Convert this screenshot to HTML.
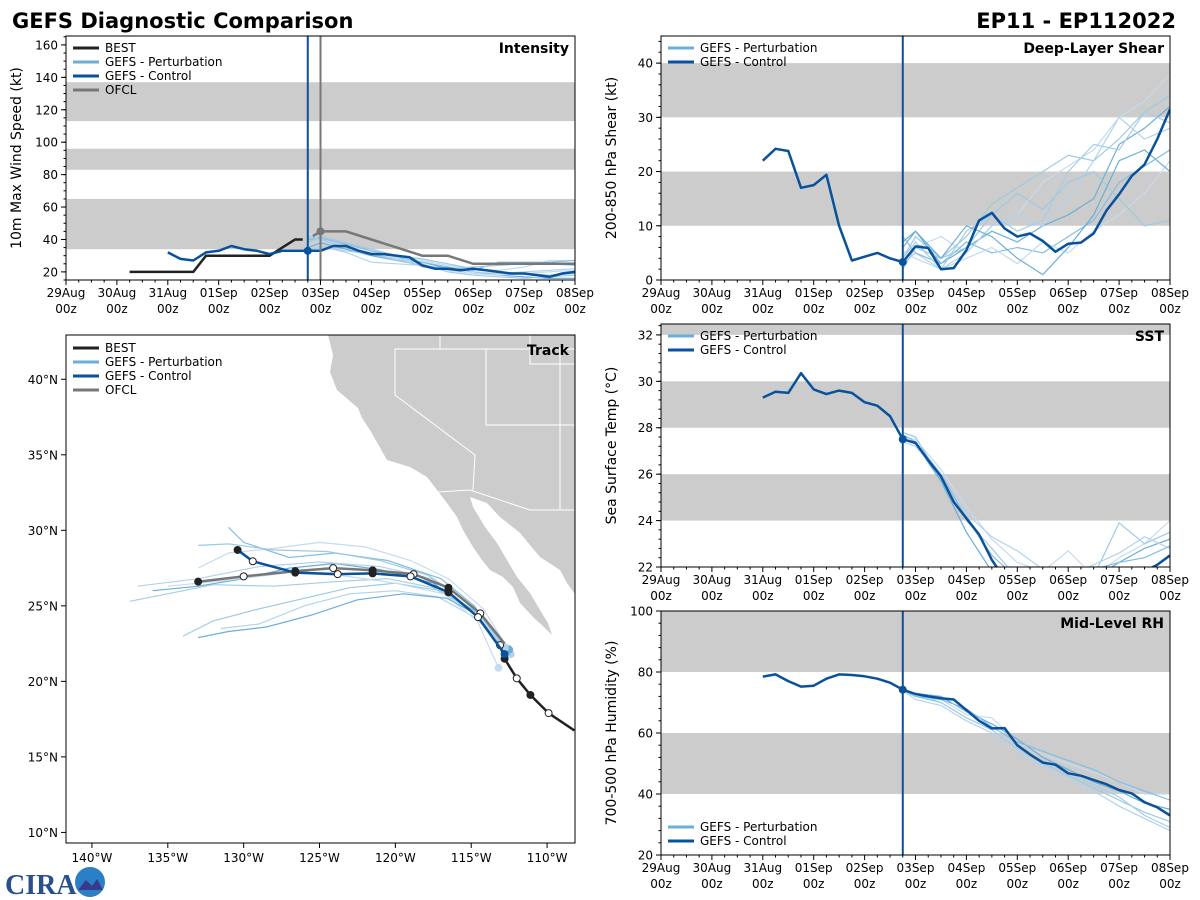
<!DOCTYPE html>
<html><head><meta charset="utf-8">
<style>
html,body{margin:0;padding:0;background:#fff;}
svg{display:block;font-family:"DejaVu Sans","Liberation Sans",sans-serif;}
</style></head>
<body>
<svg id="fig" width="1200" height="900" viewBox="0 0 1200 900" xmlns="http://www.w3.org/2000/svg">
<text x="12" y="28" font-size="21" font-weight="bold">GEFS Diagnostic Comparison</text>
<text x="1176" y="28" font-size="21" font-weight="bold" text-anchor="end">EP11 - EP112022</text>
<g>
<text x="5" y="894" font-size="28" font-weight="bold" fill="#2a4f8f" font-family="Liberation Serif, serif">CIRA</text>
<circle cx="90" cy="882" r="15" fill="#2a7fc7"/>
<path d="M78 890 L86 880 L92 886 L97 879 L103 890 Z" fill="#3a3a8a"/>
</g>
</svg>
<script>
const NS='http://www.w3.org/2000/svg';
const fig=document.getElementById('fig');
// ---------- DATA ----------
const dayLabels=['29Aug','30Aug','31Aug','01Sep','02Sep','03Sep','04Sep','05Sep','06Sep','07Sep','08Sep'];
const ctlStart=2, ctlStep=0.25;
const initDay=4.75;
const pertT=[4.75,5,5.5,6,6.5,7,7.5,8,8.5,9,9.5,10];
// Intensity
const intCtl=[32,28,27,32,33,36,34,33,31,33,33,33,33,36,36,33,31,31,30,29,24,22,22,21,22,21,20,19,19,18,17,19,20];
const bestT=[1.25,1.5,1.75,2,2.25,2.5,2.75,3,3.25,3.5,3.75,4,4.25,4.5,4.65];
const bestV=[20,20,20,20,20,20,30,30,30,30,30,30,35,40,40];
const ofclT=[4.85,5,5.5,6,6.5,7,7.5,8,8.5,9,9.5,10];
const ofclV=[42,45,45,40,35,30,30,25,25,25,25,25];
const intPert=[
[44,40,36,33,30,27,24,22,21,23,27,27],
[38,42,38,34,30,28,25,22,20,19,18,19],
[35,38,34,30,27,26,22,20,18,17,16,16],
[33,36,32,26,25,24,22,20,19,20,21,22],
[40,41,37,33,29,26,23,21,26,26,26,27],
[34,35,33,31,28,25,20,18,17,16,17,18],
[36,39,35,32,29,23,21,19,18,19,20,21],
[42,40,35,31,27,24,22,23,24,25,25,24]];
// Shear
const shrCtl=[22,24.2,23.8,17,17.5,19.4,10,3.6,4.3,5,4,3.3,6.2,5.9,2,2.2,5.5,11,12.4,9.5,8,8.6,7.2,5.2,6.7,6.9,8.6,12.8,15.8,19.2,21.3,26,31.5];
const shrPert=[
[5,6,8,5,10,12,18,21,24,30,33,38],
[4,8,4,8,14,17,20,23,22,26,31,34],
[6,9,3,6,9,7,10,12,15,25,28,32],
[3,5,2,5,10,12,10,15,22,30,26,28],
[8,5,3,7,5,6,5,8,11,18,21,24],
[4,7,2,9,12,9,11,20,25,24,31,29],
[5,4,2,4,6,3,7,5,9,12,16,22],
[2,6,4,6,12,16,13,18,20,15,10,11],
[7,9,4,10,8,4,1,6,12,22,24,20]];
// SST
const sstCtl=[29.3,29.55,29.5,30.35,29.65,29.45,29.6,29.5,29.1,28.95,28.5,27.5,27.35,26.6,25.9,24.8,24.1,23.4,22.3,21.5,21,20.8,20.7,20.6,20.6,20.7,20.8,21,21.2,21.4,21.8,22.1,22.5];
const sstPert=[
[27.6,27.5,26.2,24.6,23.2,22.2,21.8,22.7,21.6,22.4,23,24],
[27.8,27.6,25.8,24,22.8,21.5,21,21.2,21.6,23.9,23,23.5],
[27.5,27.3,25.7,23.5,21.8,21,20.8,21,21.5,22.2,22.8,23.2],
[27.4,27.2,25.9,24.3,23.3,22.7,21.9,21.6,22.1,22.6,23.3,22.8],
[27.7,27.4,26,24.1,22.5,21.5,21.2,21.4,21.9,22.2,22.4,22.9]];
// RH
const rhCtl=[78.5,79.2,77,75.2,75.5,77.8,79.2,79,78.6,77.8,76.5,74.2,72.8,72,71.4,71,67.5,64,61.5,61.6,56,53,50.3,49.6,46.8,46,44.6,43.2,41.3,40.2,37.3,35.6,33];
const rhPert=[
[74,73,71,66,65,57,53,50,47,44,40,40],
[74,72,70,65,61,55,50,46,42,38,34,31],
[74,73,72,67,63,58,52,48,44,41,37,35],
[74,71,69,64,60,54,49,45,41,36,32,28],
[74,72,71,68,62,57,54,51,48,44,41,38],
[74,73,70,65,61,55,51,47,43,39,33,29]];
// Track
const trkBestLon=[-108.2,-109.9,-111.1,-112.0,-112.8,-113.1];
const trkBestLat=[16.75,17.9,19.1,20.2,21.5,22.4];
const trkOfclLon=[-112.8,-114.4,-116.5,-118.8,-121.5,-124.1,-126.6,-130.0,-133.0];
const trkOfclLat=[22.5,24.5,26.2,27.1,27.35,27.5,27.3,26.95,26.6];
const trkCtlLon=[-112.8,-114.55,-116.5,-119.0,-121.5,-123.8,-126.6,-129.4,-130.4];
const trkCtlLat=[21.8,24.25,25.9,26.95,27.15,27.1,27.2,27.95,28.7];
const trkPert=[
[[-112.6,22.2],[-114.2,24.8],[-116.5,26.8],[-119,28],[-122,28.9],[-125,29.2],[-128,28.8],[-131,28.5],[-133,27.5]],
[[-112.5,22],[-114.5,24.5],[-117,26],[-120,26.5],[-123,26.2],[-126,25.5],[-129,24.8],[-132,24],[-134,23]],
[[-112.8,22],[-115,24.8],[-117.5,26.5],[-121,27.4],[-124,27.8],[-127,27.5],[-130,26.8],[-133,26.3],[-136,26]],
[[-112.4,21.8],[-114.7,24.2],[-117.2,25.6],[-120,26],[-123,25.8],[-126,25],[-129,23.8],[-131.5,23.5]],
[[-112.9,22.3],[-114.8,25],[-117,26.8],[-120.5,28],[-124,28.5],[-127,28.2],[-130,29.2],[-131,30.2]],
[[-112.6,21.9],[-114.8,24.6],[-117.5,26.2],[-120.5,26.8],[-124,26.6],[-128,26.3],[-132,26.4],[-137.5,25.3]],
[[-113.2,20.9],[-114.6,24],[-116.8,25.8],[-120,26.5],[-123.5,27],[-127,27.2],[-131,26.7],[-135,26.3]],
[[-112.7,22.1],[-114.9,25],[-117.8,27],[-121,28],[-124.5,28.6],[-128,28.7],[-131,29.1],[-133,29]],
[[-112.5,22.1],[-114.4,24.3],[-116.6,25.5],[-119.5,25.8],[-122.5,25.4],[-125.5,24.4],[-128.5,23.6],[-131,23.3],[-133,22.9]],
[[-112.8,22.2],[-115.1,25.2],[-117.6,26.8],[-121,27.6],[-125,27.9],[-129,27.6],[-133,26.8],[-137,26.3]]];
const lonTicks=[-140,-135,-130,-125,-120,-115,-110];
const latTicks=[10,15,20,25,30,35,40];
// ---------- HELPERS ----------
const PCOL=['#c6dbef','#9ecae1','#6baed6','#b3d3ec','#85bde0','#a6cde8'];
const CTL='#08519c';
function mk(tag,attrs,parent){const e=document.createElementNS(NS,tag);for(const k in attrs)e.setAttribute(k,attrs[k]);(parent||fig).appendChild(e);return e;}
function txt(x,y,s,size,parent,anchor,extra){const e=mk('text',Object.assign({x:x,y:y,'font-size':size,'text-anchor':anchor||'start'},extra||{}),parent);e.textContent=s;return e;}
function ptsStr(xs,ys){return xs.map((x,i)=>x.toFixed(1)+','+ys[i].toFixed(1)).join(' ');}
let clipN=0;
function legend(g,x,y,items){
  items.forEach((it,i)=>{
    const yy=y+i*14;
    const l=mk('line',{x1:x,y1:yy,x2:x+26,y2:yy,stroke:it[1],'stroke-width':3},g);
    
    
    const t=txt(x+32,yy+4,it[0],12,g);
    
    
  });
}
function timePanel(c){
  const g=mk('g',{});
  
  
  const x0=c.x0,x1=c.x0+c.w,y0=c.y0,y1=c.y0+c.h;
  const sx=d=>x0+d/10*c.w;
  const sy=v=>y1-(v-c.ymin)/(c.ymax-c.ymin)*c.h;
  const id='clip'+(clipN++);
  const cp=mk('clipPath',{id:id},g);mk('rect',{x:x0,y:y0,width:c.w,height:c.h},cp);
  const pg=mk('g',{'clip-path':'url(#'+id+')'},g);
  c.bands.forEach(b=>{
    const r=mk('rect',{x:x0,y:sy(b[1]),width:c.w,height:sy(b[0])-sy(b[1]),fill:'#cccccc'},pg);
    
    
  });
  c.perts.forEach((m,i)=>{
    const p=mk('polyline',{points:ptsStr(pertT.map(sx),m.map(sy)),fill:'none',stroke:PCOL[i%PCOL.length],'stroke-width':1.2},pg);
    
    
  });
  if(c.extra)c.extra(pg,sx,sy);
  const ct=c.ctl.map((v,i)=>ctlStart+i*ctlStep);
  const cl=mk('polyline',{points:ptsStr(ct.map(sx),c.ctl.map(sy)),fill:'none',stroke:CTL,'stroke-width':2.5,'stroke-linejoin':'round'},pg);
  
  
  const ii=Math.round((initDay-ctlStart)/ctlStep);
  const dot=mk('circle',{cx:sx(initDay),cy:sy(c.ctl[ii]),r:4,fill:CTL},pg);
  
  
  const vl=mk('line',{x1:sx(initDay),y1:y0,x2:sx(initDay),y2:y1,stroke:CTL,'stroke-width':2},pg);
  
  
  if(c.ofclLine){const ol=mk('line',{x1:sx(5),y1:y0,x2:sx(5),y2:y1,stroke:'#777','stroke-width':2},pg);
    
    }
  const fr=mk('rect',{x:x0,y:y0,width:c.w,height:c.h,fill:'none',stroke:'#000','stroke-width':1},g);
  
  
  // x ticks
  for(let d=0;d<=10;d+=0.25){
    const major=Math.abs(d-Math.round(d))<1e-6;
    mk('line',{x1:sx(d),y1:y1,x2:sx(d),y2:y1+(major?5:2.5),stroke:'#000','stroke-width':1},g);
  }
  dayLabels.forEach((s,i)=>{
    const t=txt(sx(i),y1+17,s,12,g,'middle');
    
    
    const t2=txt(sx(i),y1+33,'00z',12,g,'middle');
    
    
  });
  // y ticks
  for(let v=Math.ceil(c.ymin/c.minor)*c.minor;v<=c.ymax+1e-6;v+=c.minor){
    mk('line',{x1:x0,y1:sy(v),x2:x0-2.5,y2:sy(v),stroke:'#000','stroke-width':1},g);
  }
  c.yticks.forEach(v=>{
    mk('line',{x1:x0,y1:sy(v),x2:x0-5,y2:sy(v),stroke:'#000','stroke-width':1},g);
    const t=txt(x0-8,sy(v)+4.5,String(v),12,g,'end');
    
    
  });
  const yl=txt(0,0,c.ylabel,14,g,'middle',{transform:'translate('+(x0-45)+','+(y0+c.h/2)+') rotate(-90)'});
  
  
  const tt=txt(x1-6,y0+17,c.title,14,g,'end',{'font-weight':'bold'});
  
  
  legend(g,x0+7,c.legY,c.legend);
}
const L2=[['GEFS - Perturbation','#6baed6'],['GEFS - Control',CTL]];
const L4=[['BEST','#222'],['GEFS - Perturbation','#6baed6'],['GEFS - Control',CTL],['OFCL','#777']];
timePanel({name:'intensity-panel',x0:66,y0:36,w:509,h:244,ymin:15,ymax:165.5,bands:[[34,65],[83,96],[113,137]],
  perts:intPert,ctl:intCtl,yticks:[20,40,60,80,100,120,140,160],minor:5,ylabel:'10m Max Wind Speed (kt)',title:'Intensity',legY:48,legend:L4,ofclLine:true,
  extra:(pg,sx,sy)=>{
    const b=mk('polyline',{points:ptsStr(bestT.map(sx),bestV.map(sy)),fill:'none',stroke:'#222','stroke-width':2.5},pg);
    
    
    const o=mk('polyline',{points:ptsStr(ofclT.map(sx),ofclV.map(sy)),fill:'none',stroke:'#777','stroke-width':2.5},pg);
    
    
    const od=mk('circle',{cx:sx(ofclT[1]),cy:sy(ofclV[1]),r:4,fill:'#777'},pg);
    
    
  }});
timePanel({name:'shear-panel',x0:661,y0:36,w:509,h:244,ymin:0,ymax:45,bands:[[10,20],[30,40]],
  perts:shrPert,ctl:shrCtl,yticks:[0,10,20,30,40],minor:2,ylabel:'200-850 hPa Shear (kt)',title:'Deep-Layer Shear',legY:48,legend:L2});
timePanel({name:'sst-panel',x0:661,y0:324,w:509,h:243,ymin:22,ymax:32.47,bands:[[24,26],[28,30],[32,33]],
  perts:sstPert,ctl:sstCtl,yticks:[22,24,26,28,30,32],minor:0.4,ylabel:'Sea Surface Temp (°C)',title:'SST',legY:336,legend:L2});
timePanel({name:'rh-panel',x0:661,y0:611,w:509,h:244,ymin:20,ymax:100,bands:[[40,60],[80,100]],
  perts:rhPert,ctl:rhCtl,yticks:[20,40,60,80,100],minor:4,ylabel:'700-500 hPa Humidity (%)',title:'Mid-Level RH',legY:827,legend:L2});
// ---------- TRACK ----------
(function(){
  const x0=66,y0=335,w=509,h=508,x1=x0+w,y1=y0+h;
  const lonMin=-141.71,lonMax=-108.16,latMin=9.3,latMax=42.93;
  const sx=lon=>x0+(lon-lonMin)/(lonMax-lonMin)*w;
  const sy=lat=>y1-(lat-latMin)/(latMax-latMin)*h;
  const g=mk('g',{});
  
  
  const cp=mk('clipPath',{id:'trkclip'},g);mk('rect',{x:x0,y:y0,width:w,height:h},cp);
  const pg=mk('g',{'clip-path':'url(#trkclip)'},g);
  const land=mk('path',{d:'M328,335 L333,355 L330,372 L337,390 L358,408 L362,418 L370,430 L387,460 L410,467 L427,477 L437,490 L447,503 L457,517 L463,530 L473,547 L482,560 L490,570 L503,577 L513,587 L520,603 L533,617 L547,630 L552,635 L548,623 L540,610 L530,593 L517,577 L507,560 L497,543 L485,527 L473,507 L470,497 L487,503 L500,517 L520,533 L540,557 L560,570 L567,583 L577,597 L577,335 Z',fill:'#cccccc'},pg);
  
  
  const bd=mk('path',{d:'M395,349 L578,349 M395,349 L395,395 L475,455 L473,490 M438,492 L470,490 L530,510 L578,510 M486,349 L486,425 L578,425 M560,349 L560,510 M440,335 L440,349 M530,335 L530,364 L578,364',fill:'none',stroke:'#fff','stroke-width':1},pg);
  
  
  trkPert.forEach((m,i)=>{
    const p=mk('polyline',{points:ptsStr(m.map(q=>sx(q[0])),m.map(q=>sy(q[1]))),fill:'none',stroke:PCOL[i%PCOL.length],'stroke-width':1.2},pg);
    
    
    const d=mk('circle',{cx:sx(m[0][0]),cy:sy(m[0][1]),r:4,fill:PCOL[i%PCOL.length]},pg);
    
    
  });
  function track(lons,lats,col,name,dots){
    const p=mk('polyline',{points:ptsStr(lons.map(sx),lats.map(sy)),fill:'none',stroke:col,'stroke-width':2.5},pg);
    
    
    if(dots)lons.forEach((lo,i)=>{
      if(i===0)return;
      const c=mk('circle',{cx:sx(lo),cy:sy(lats[i]),r:3.5,fill:i%2?'#fff':'#222',stroke:'#222','stroke-width':1},pg);
      
      
    });
  }
  track(trkBestLon,trkBestLat,'#222','best-track',true);
  track(trkOfclLon,trkOfclLat,'#777','ofcl-track',true);
  track(trkCtlLon,trkCtlLat,CTL,'control-track',true);
  const cd=mk('circle',{cx:sx(trkCtlLon[0]),cy:sy(trkCtlLat[0]),r:4,fill:CTL},pg);
  
  
  const fr=mk('rect',{x:x0,y:y0,width:w,height:h,fill:'none',stroke:'#000','stroke-width':1},g);
  
  
  lonTicks.forEach(v=>{
    mk('line',{x1:sx(v),y1:y1,x2:sx(v),y2:y1+5,stroke:'#000'},g);
    const t=txt(sx(v),y1+19,Math.abs(v)+'°W',12,g,'middle');
    
    
  });
  latTicks.forEach(v=>{
    mk('line',{x1:x0,y1:sy(v),x2:x0-5,y2:sy(v),stroke:'#000'},g);
    const t=txt(x0-8,sy(v)+4.5,v+'°N',12,g,'end');
    
    
  });
  const tt=txt(x1-6,y0+20,'Track',14,g,'end',{'font-weight':'bold'});
  
  
  legend(g,x0+7,y0+13,L4);
})();
</script>
</body></html>
